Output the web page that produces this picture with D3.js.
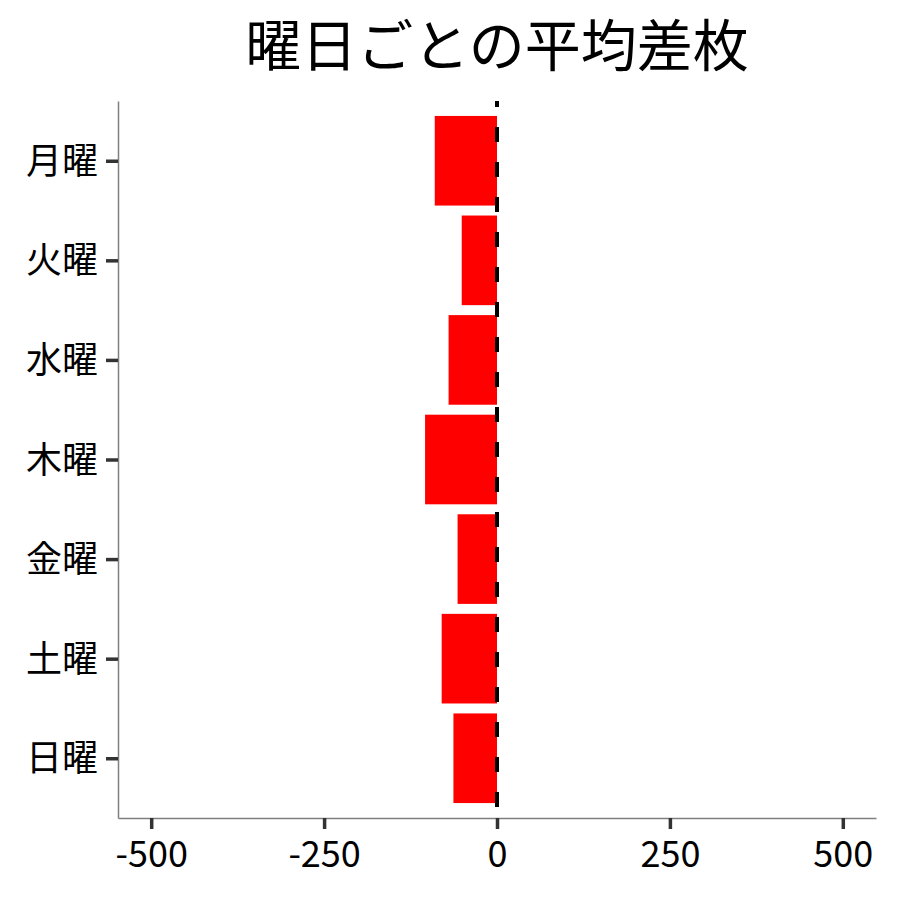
<!DOCTYPE html>
<html>
<head>
<meta charset="utf-8">
<script src="https://cdn.jsdelivr.net/npm/d3@7"></script>
<style>
  body { margin: 0; background: #fff; }
  text { font-family: "Noto Sans CJK JP", "Noto Sans", sans-serif; }
</style>
</head>
<body>
<div id="chart"></div>
<script>
// days and their average difference
var days = ["月曜", "火曜", "水曜", "木曜", "金曜", "土曜", "日曜"];
var diffs = [-90, -51, -70, -104, -57, -80, -63];
var xTicks = [-500, -250, 0, 250, 500];
var title = "曜日ごとの平均差枚";

var margin = { top: 101, right: 24, bottom: 82, left: 118 },
    width = 900 - margin.left - margin.right,
    height = 900 - margin.top - margin.bottom;

var svg = d3.select("#chart").append("svg")
    .attr("width", 900)
    .attr("height", 900);

var g = svg.append("g")
    .attr("transform", "translate(" + margin.left + "," + margin.top + ")");

var x = d3.scaleLinear()
    .domain([-548, 548])
    .range([0, width]);

// ggplot-like discrete expansion: 0.6 of a step on each side
var y = d3.scalePoint()
    .domain(days)
    .range([0, height])
    .padding(0.6);
var step = y.step();
var barH = step * 0.9;

// bars
g.selectAll(".bar")
    .data(days)
    .enter()
    .append("rect")
    .attr("class", "bar")
    .attr("x", function (d, i) { return x(Math.min(0, diffs[i])); })
    .attr("width", function (d, i) { return Math.abs(x(diffs[i]) - x(0)); })
    .attr("y", function (d) { return y(d) - barH / 2; })
    .attr("height", barH)
    .attr("fill", "#ff0000");

// zero line
g.append("line")
    .attr("x1", x(0)).attr("x2", x(0))
    .attr("y1", 0).attr("y2", height)
    .attr("stroke", "#000")
    .attr("stroke-width", 4)
    .attr("stroke-dasharray", "15,20")
    .attr("stroke-dashoffset", 9);

// axes
var xAxis = g.append("g")
    .attr("transform", "translate(0," + height + ")")
    .call(d3.axisBottom(x).tickValues(xTicks).tickSize(11).tickPadding(12).tickSizeOuter(0)
        .tickFormat(function (d) { return String(d); }));

var yAxis = g.append("g")
    .call(d3.axisLeft(y).tickSize(12).tickPadding(8).tickSizeOuter(0));

[xAxis, yAxis].forEach(function (a) {
    a.select(".domain").attr("stroke", "#7f7f7f").attr("stroke-width", 1.5);
    a.selectAll(".tick line").attr("stroke", "#333").attr("stroke-width", 3.5);
    a.selectAll(".tick text")
        .attr("fill", "#000")
        .style("font-family", '"Noto Sans CJK JP", sans-serif');
});
xAxis.selectAll(".tick text").style("font-size", "36px").attr("dy", "0.71em");
yAxis.selectAll(".tick text").style("font-size", "36px").attr("dy", "0.35em");

svg.append("text")
    .attr("x", margin.left + width / 2)
    .attr("y", 66)
    .attr("text-anchor", "middle")
    .style("font-size", "56px")
    .attr("fill", "#000")
    .text(title);
</script>
</body>
</html>
